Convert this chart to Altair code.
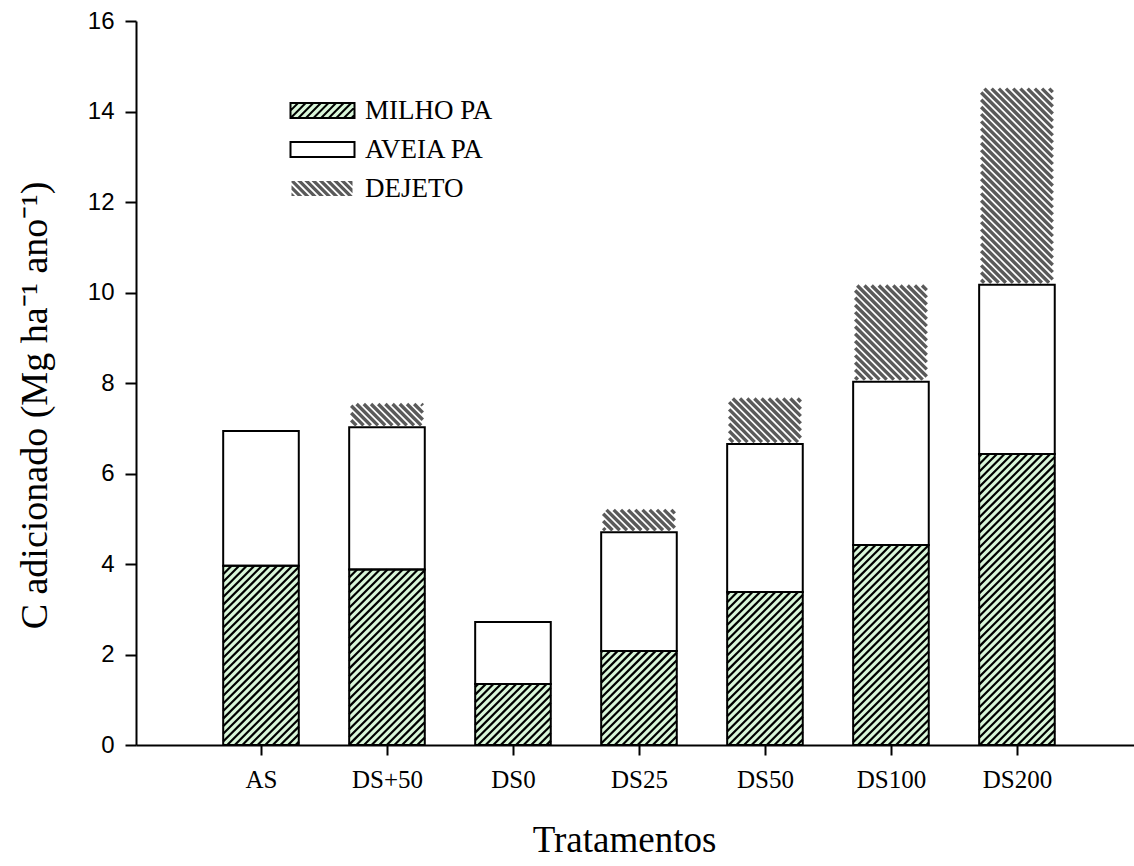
import json
import altair as alt
import pandas as pd

# ---------------- data ----------------
categories = ["AS", "DS+50", "DS0", "DS25", "DS50", "DS100", "DS200"]
milho = [3.96, 3.88, 1.35, 2.08, 3.38, 4.42, 6.43]
aveia = [2.98, 3.14, 1.37, 2.62, 3.27, 3.61, 3.74]
dejeto = [0.0, 0.56, 0.0, 0.54, 1.05, 2.17, 4.38]
series = ["MILHO PA", "AVEIA PA", "DEJETO"]
y_ticks = [0, 2, 4, 6, 8, 10, 12, 14, 16]

# ---------------- layout / style ----------------
W, H = 998, 724
X_DOM = [-0.992, 6.929]
Y_DOM = [0, 16]
HALF = 0.30
SX = W / (X_DOM[1] - X_DOM[0])
SY = H / (Y_DOM[1] - Y_DOM[0])
GREEN = "#d9f6d9"
GRAY = "#5a5a5a"
P_MILHO = 7.6
P_DEJ = 7.2

# stacked segments
seg_rows = []
for i, c in enumerate(categories):
    b1 = milho[i]
    b2 = b1 + aveia[i]
    b3 = b2 + dejeto[i]
    seg_rows.append(dict(cat=c, part="MILHO PA", x=i - HALF, x2=i + HALF, y=0.0, y2=b1))
    seg_rows.append(dict(cat=c, part="AVEIA PA", x=i - HALF, x2=i + HALF, y=b1, y2=b2))
    if dejeto[i] > 0:
        seg_rows.append(dict(cat=c, part="DEJETO", x=i - HALF, x2=i + HALF, y=b2, y2=b3))
seg = pd.DataFrame(seg_rows)


def hatch(x0, x1, y0, y1, period, direction, inset=0.0):
    """Diagonal hatch segments inside a bar (derived from bar geometry)."""
    u0 = (x0 - X_DOM[0]) * SX + inset
    u1 = (x1 - X_DOM[0]) * SX - inset
    v0 = y0 * SY + inset
    v1 = y1 * SY - inset
    out = []
    if direction == "/":  # v = u + c
        cmin, cmax = v0 - u1, v1 - u0
        c = int(cmin // period) * period
        while c <= cmax:
            ua = max(u0, v0 - c)
            ub = min(u1, v1 - c)
            if ub - ua > 0.3:
                out.append((ua, ua + c, ub, ub + c))
            c += period
    else:  # v = -u + c
        cmin, cmax = u0 + v0, u1 + v1
        c = int(cmin // period) * period
        while c <= cmax:
            ua = max(u0, c - v1)
            ub = min(u1, c - v0)
            if ub - ua > 0.3:
                out.append((ua, c - ua, ub, c - ub))
            c += period
    return [dict(x=a / SX + X_DOM[0], y=b / SY, x2=cc / SX + X_DOM[0], y2=d / SY)
            for a, b, cc, d in out]


h_milho, h_dej = [], []
for r in seg_rows:
    if r["part"] == "MILHO PA":
        h_milho += hatch(r["x"], r["x2"], r["y"], r["y2"], P_MILHO, "/")
    elif r["part"] == "DEJETO":
        h_dej += hatch(r["x"], r["x2"], r["y"], r["y2"], P_DEJ, "\\", inset=2.0)
h_milho = pd.DataFrame(h_milho)
h_dej = pd.DataFrame(h_dej)


# ---------------- legend symbol paths (style) ----------------
def fmt(v):
    return f"{v:.3f}".rstrip("0").rstrip(".")


R = 8.0  # sqrt(symbolSize)/2
SW, SH = 32.0, 7.5  # half width / half height of swatch in px


def clip_poly(poly, xmin, xmax, ymin, ymax):
    def clip(pts, inside, inter):
        res = []
        n = len(pts)
        for j in range(n):
            p, q = pts[j], pts[(j + 1) % n]
            ip, iq = inside(p), inside(q)
            if ip:
                res.append(p)
            if ip != iq:
                res.append(inter(p, q))
        return res

    def ix(p, q, xv):
        t = (xv - p[0]) / (q[0] - p[0])
        return (xv, p[1] + t * (q[1] - p[1]))

    def iy(p, q, yv):
        t = (yv - p[1]) / (q[1] - p[1])
        return (p[0] + t * (q[0] - p[0]), yv)

    pts = poly
    for inside, inter in [
        (lambda p: p[0] >= xmin, lambda p, q: ix(p, q, xmin)),
        (lambda p: p[0] <= xmax, lambda p, q: ix(p, q, xmax)),
        (lambda p: p[1] >= ymin, lambda p, q: iy(p, q, ymin)),
        (lambda p: p[1] <= ymax, lambda p, q: iy(p, q, ymax)),
    ]:
        if not pts:
            break
        pts = clip(pts, inside, inter)
    return pts


rect_path = f"M{fmt(-SW/R)},{fmt(-SH/R)}H{fmt(SW/R)}V{fmt(SH/R)}H{fmt(-SW/R)}Z"
milho_path = rect_path
c = -SW - SH
while c <= SW + SH:
    xa = max(-SW, c - SH)
    xb = min(SW, c + SH)
    if xb - xa > 0.5:
        milho_path += f"M{fmt(xa/R)},{fmt((c-xa)/R)}L{fmt(xb/R)},{fmt((c-xb)/R)}"
    c += P_MILHO
dej_path = ""
c = -SW - SH - P_DEJ
while c <= SW + SH:
    w = 4.6
    poly = [(c - 20, -20), (c + w - 20, -20), (c + w + 20, 20), (c + 20, 20)]
    pts = clip_poly(poly, -SW + 1, SW - 2, -SH, SH)
    if len(pts) >= 3:
        dej_path += "M" + "L".join(f"{fmt(px/R)},{fmt(py/R)}" for px, py in pts) + "Z"
    c += P_DEJ

# ---------------- encodings ----------------
x_enc = alt.X(
    "x:Q",
    scale=alt.Scale(domain=X_DOM, nice=False, zero=False),
    axis=alt.Axis(
        values=list(range(len(categories))),
        labelExpr=f"{json.dumps(categories)}[datum.value]",
        title="Tratamentos",
        titleFont="Liberation Serif", titleFontSize=37, titleFontWeight="normal",
        titleColor="black", titleX=488, titleY=106, titleBaseline="alphabetic",
        labelFont="Liberation Serif", labelFontSize=25, labelColor="black",
        labelPadding=12, labelFlush=False, labelOverlap=False,
        tickSize=10, tickWidth=2, tickColor="black",
        domainWidth=2, domainColor="black", grid=False,
    ),
)
y_enc = alt.Y(
    "y:Q",
    scale=alt.Scale(domain=Y_DOM, nice=False),
    axis=alt.Axis(
        values=y_ticks,
        title="C adicionado (Mg ha⁻¹ ano⁻¹)",
        titleFont="Liberation Serif", titleFontSize=38, titleFontWeight="normal",
        titleColor="black", titleX=-82, titleY=384, titleBaseline="bottom", titleAngle=270,
        labelFont="Liberation Sans", labelFontSize=24, labelColor="black",
        labelPadding=11, tickSize=11, tickWidth=2, tickColor="black",
        domainWidth=2, domainColor="black", grid=False,
    ),
)

base_seg = alt.Chart(seg)

milho_fill = base_seg.mark_rect(fill=GREEN, strokeWidth=0).encode(
    x=x_enc, x2="x2:Q", y=y_enc, y2="y2:Q"
).transform_filter(alt.datum.part == "MILHO PA")

milho_lines = alt.Chart(h_milho).mark_rule(color="black", strokeWidth=2.2).encode(
    x=x_enc, x2="x2:Q", y=y_enc, y2="y2:Q"
)

outlines = base_seg.mark_rect(fill="transparent", stroke="black", strokeWidth=2).encode(
    x=x_enc, x2="x2:Q", y=y_enc, y2="y2:Q"
).transform_filter(alt.datum.part != "DEJETO")

dej_lines = alt.Chart(h_dej).mark_rule(color=GRAY, strokeWidth=3.4).encode(
    x=x_enc, x2="x2:Q", y=y_enc, y2="y2:Q"
)

leg = alt.Legend(
    title=None, orient="none", legendX=173, legendY=76, padding=0,
    labelFont="Liberation Serif", labelFontSize=27, labelColor="black",
    labelOffset=29, labelLimit=400, rowPadding=11,
    symbolSize=256, symbolStrokeWidth=2, symbolOpacity=1,
)
legend_layer = alt.Chart(pd.DataFrame({"series": series})).mark_point(filled=True).encode(
    fill=alt.Fill("series:N", scale=alt.Scale(domain=series, range=[GREEN, "#ffffff", GRAY]), legend=leg),
    stroke=alt.Stroke("series:N", scale=alt.Scale(domain=series, range=["#000000", "#000000", "transparent"]), legend=leg),
    shape=alt.Shape("series:N", scale=alt.Scale(domain=series, range=[milho_path, rect_path, dej_path]), legend=leg),
).transform_filter("false")

chart = alt.layer(milho_fill, milho_lines, outlines, dej_lines, legend_layer).properties(
    width=W, height=H,
    autosize=alt.AutoSizeParams(type="none"),
    padding={"left": 136, "top": 21, "right": 0, "bottom": 121},
    background="white",
).configure_view(stroke=None)

chart.save("out.html", embed_options={"renderer": "svg", "actions": False})
